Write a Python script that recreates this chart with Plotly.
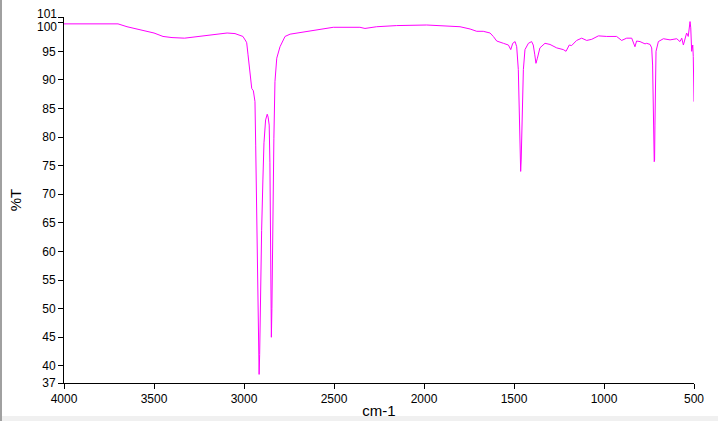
import plotly.graph_objects as go

wavenumber = [4000, 3700, 3650, 3600, 3500, 3450, 3400, 3330, 3280, 3200, 3150, 3094, 3050, 3020, 3006,
              2990, 2985, 2978, 2971, 2962, 2957, 2948, 2939, 2935, 2930, 2925, 2921, 2918, 2916, 2913,
              2908, 2902, 2895, 2889, 2880, 2871, 2866, 2860, 2856, 2852, 2848, 2845, 2841, 2837, 2834,
              2828, 2818, 2800, 2772, 2744, 2707, 2652, 2578, 2504, 2356, 2328, 2263, 2152, 1985, 1930,
              1800, 1744, 1707, 1671, 1633, 1615, 1596, 1559, 1531, 1518, 1507, 1494, 1485, 1476, 1472,
              1467, 1463, 1460, 1456, 1452, 1448, 1439, 1420, 1402, 1393, 1385, 1378, 1370, 1356, 1328,
              1300, 1263, 1226, 1211, 1193, 1180, 1152, 1124, 1096, 1068, 1031, 985, 930, 902, 874,
              846, 828, 819, 800, 772, 763, 744, 735, 730, 726, 723, 721, 719, 717, 715,
              711, 698, 670, 633, 596, 578, 568, 559, 550, 541, 532, 525, 522, 518, 513,
              507, 504, 500]
transmittance = [99.8, 99.8, 99.3, 98.9, 98.2, 97.6, 97.4, 97.3, 97.5, 97.9, 98.1, 98.2, 98.1, 97.8, 97.6,
                 96.8, 96.5, 94.5, 92.6, 90.0, 88.5, 88.1, 86.2, 78.6, 69.6, 59.1, 53.2, 44.0, 38.5, 42.0,
                 53.2, 63.7, 72.5, 79.0, 83.0, 84.0, 83.5, 82.1, 75.5, 59.1, 45.0, 50.0, 67.2, 75.5, 79.8,
                 89.7, 93.8, 95.8, 97.6, 98.0, 98.2, 98.4, 98.9, 99.2, 99.2, 99.0, 99.3, 99.5, 99.6, 99.5,
                 99.3, 98.9, 98.5, 98.5, 98.2, 97.6, 96.8, 96.4, 96.1, 95.3, 96.4, 96.7, 95.8, 91.8, 87.1,
                 80.1, 74.0, 76.0, 80.1, 86.0, 91.8, 95.3, 96.4, 96.7, 96.1, 94.5, 92.9, 93.8, 95.6, 96.4,
                 96.2, 95.6, 95.3, 95.0, 96.1, 96.0, 96.9, 97.3, 96.9, 97.1, 97.7, 97.6, 97.6, 96.9, 97.3,
                 97.3, 95.8, 96.8, 96.7, 96.3, 96.4, 96.2, 95.6, 92.6, 85.6, 82.1, 75.7, 76.0, 82.1, 89.7,
                 95.0, 96.7, 97.2, 97.0, 97.2, 96.7, 97.3, 96.1, 97.0, 98.2, 97.6, 99.3, 100.2, 99.1, 95.0,
                 96.1, 94.1, 86.2]

x_ticks = [4000, 3500, 3000, 2500, 2000, 1500, 1000, 500]
y_ticks = [37, 40, 45, 50, 55, 60, 65, 70, 75, 80, 85, 90, 95, 100, 101]
y_labels = ["37", "40", "45", "50", "55", "60", "65", "70", "75", "80", "85", "90", "95", "100", "101"]

fig = go.Figure()
fig.add_trace(go.Scatter(x=wavenumber, y=transmittance, mode="lines",
                         line=dict(color="#ff00ff", width=1), showlegend=False, hoverinfo="skip"))

font_family = "Liberation Sans, Arial, sans-serif"
# 100 and 101 are drawn as annotations so they can be nudged apart like in the reference
axis_text = [("" if v in (100, 101) else t) for v, t in zip(y_ticks, y_labels)]
annotations = []
for v, t in zip(y_ticks, y_labels):
    if v in (100, 101):
        annotations.append(dict(x=0, xref="paper", xanchor="right", xshift=-6, y=v, yref="y",
                                yanchor="middle", yshift=(-4 if v == 100 else 3),
                                text=t, showarrow=False, borderpad=0,
                                font=dict(size=12, color="black")))

fig.update_layout(
    width=718, height=421,
    margin=dict(l=64, r=24, t=17, b=38),
    paper_bgcolor="white", plot_bgcolor="white",
    font=dict(family=font_family, size=12, color="black"),
    xaxis=dict(range=[4000, 500], tickvals=x_ticks, ticktext=[str(v) for v in x_ticks],
               showgrid=False, zeroline=False, showline=True, linecolor="black", linewidth=1,
               ticks="outside", ticklen=5, tickcolor="black", automargin=False,
               title=dict(text="cm-1", font=dict(size=15), standoff=0)),
    yaxis=dict(range=[37, 101], tickvals=y_ticks, ticktext=axis_text,
               showgrid=False, zeroline=False, showline=True, linecolor="black", linewidth=1,
               ticks="outside", ticklen=5, tickcolor="black", automargin=False,
               title=dict(text="%T", font=dict(size=15), standoff=16)),
    annotations=annotations,
    shapes=[
        dict(type="line", xref="paper", yref="paper", x0=-63/630, x1=-63/630, y0=-38/366, y1=1+17/366,
             line=dict(color="#a0a0a0", width=2)),
        dict(type="rect", xref="paper", yref="paper", x0=-64/630, x1=1+24/630, y0=-38/366, y1=-33/366,
             fillcolor="#f0f0f0", line=dict(width=0), layer="below"),
    ],
)

fig.write_html("out.html", config={"displayModeBar": False},
               post_script="document.body.style.margin='0';document.body.style.padding='0';")
